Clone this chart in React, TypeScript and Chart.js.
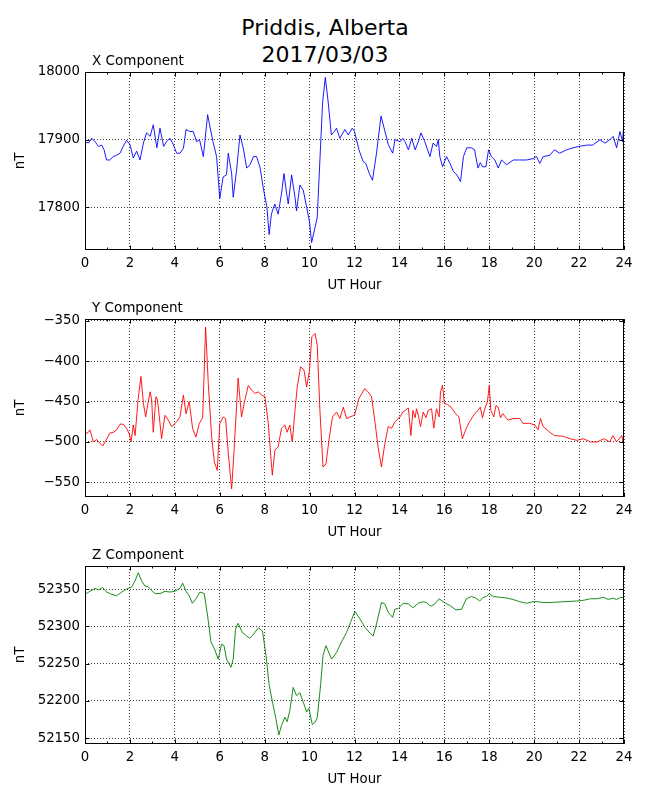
import React, { useEffect, useRef } from 'react'
import Chart from 'chart.js/auto'

// UT hours on the x axis
const hourTicks = [0, 2, 4, 6, 8, 10, 12, 14, 16, 18, 20, 22, 24]
const minorHourTicks = [1, 3, 5, 7, 9, 11, 13, 15, 17, 19, 21, 23]

// tick values for each component
const xCompTicks = [17800, 17900, 18000]
const yCompTicks = [-550, -500, -450, -400, -350]
const zCompTicks = [52150, 52200, 52250, 52300, 52350]

// X component (nT)
const xHours = [
  0, 0.15, 0.3, 0.45, 0.6, 0.75, 0.85, 0.96, 1.1, 1.26,
  1.4, 1.56, 1.7, 1.85, 2.0, 2.15, 2.3, 2.45, 2.6, 2.74,
  2.9, 3.04, 3.2, 3.34, 3.5, 3.63, 3.78, 3.93, 4.08, 4.23,
  4.38, 4.5, 4.67, 4.82, 4.97, 5.1, 5.27, 5.46, 5.56, 5.7,
  5.86, 6.0, 6.15, 6.3, 6.38, 6.53, 6.6, 6.75, 6.9, 7.05,
  7.2, 7.35, 7.5, 7.64, 7.8, 7.93, 8.1, 8.2, 8.3, 8.45,
  8.6, 8.75, 8.86, 8.98, 9.05, 9.2, 9.35, 9.42, 9.57, 9.72,
  9.87, 10.0, 10.09, 10.24, 10.34, 10.46, 10.58, 10.7, 10.83, 10.97,
  11.1, 11.2, 11.35, 11.57, 11.72, 11.9, 12.0, 12.2, 12.38, 12.5,
  12.66, 12.8, 12.98, 13.18, 13.35, 13.5, 13.7, 13.8, 14.03, 14.15,
  14.25, 14.4, 14.55, 14.7, 14.84, 14.96, 15.13, 15.36, 15.5, 15.65,
  15.73, 15.8, 15.92, 16.1, 16.25, 16.4, 16.56, 16.72, 16.85, 17.0,
  17.2, 17.35, 17.4, 17.5, 17.6, 17.7, 17.85, 17.97, 18.1, 18.25,
  18.4, 18.55, 18.77, 19.07, 19.36, 19.66, 19.95, 20.1, 20.25, 20.4,
  20.7, 20.9, 21.14, 21.44, 21.73, 22.0, 22.33, 22.6, 22.93, 23.15,
  23.37, 23.52, 23.67, 23.82, 23.94, 24.0,
]
const xValues = [
  17897, 17895, 17902, 17897, 17890, 17892, 17885, 17870, 17870, 17875,
  17877, 17880, 17890, 17899, 17893, 17873, 17883, 17870, 17895, 17910,
  17905, 17922, 17888, 17917, 17890, 17897, 17902, 17893, 17880, 17880,
  17887, 17915, 17912, 17912, 17897, 17900, 17875, 17937, 17920, 17897,
  17875, 17813, 17845, 17848, 17880, 17850, 17815, 17855, 17907, 17887,
  17858, 17863, 17875, 17875, 17858, 17830, 17800, 17760, 17790, 17805,
  17790, 17820, 17850, 17820, 17805, 17848, 17815, 17795, 17833, 17825,
  17800, 17778, 17748, 17770, 17785, 17870, 17955, 17992, 17955, 17907,
  17912, 17917, 17902, 17915, 17907, 17917, 17912, 17885, 17868, 17865,
  17850, 17840, 17880, 17935, 17913, 17893, 17880, 17900, 17897, 17902,
  17897, 17885, 17902, 17885, 17897, 17910, 17897, 17875, 17895, 17890,
  17900, 17875, 17860, 17875, 17865, 17853, 17848, 17838, 17875, 17888,
  17888, 17885, 17875, 17858, 17866, 17860, 17860, 17885, 17875, 17870,
  17858, 17870, 17863, 17870, 17870, 17870, 17872, 17875, 17865, 17875,
  17877, 17885, 17880, 17885, 17888, 17890, 17892, 17892, 17900, 17895,
  17900, 17905, 17888, 17912, 17897, 17930,
]

// Y component (nT)
const yHours = [
  0, 0.15, 0.22, 0.37, 0.52, 0.67, 0.79, 0.89, 1.11, 1.26,
  1.41, 1.56, 1.7, 1.85, 1.97, 2.05, 2.15, 2.23, 2.37, 2.49,
  2.6, 2.7, 2.82, 2.9, 2.97, 3.04, 3.16, 3.23, 3.34, 3.41,
  3.56, 3.71, 3.86, 4.08, 4.23, 4.38, 4.5, 4.64, 4.79, 4.94,
  5.09, 5.24, 5.37, 5.49, 5.64, 5.76, 5.89, 6.0, 6.16, 6.26,
  6.38, 6.53, 6.63, 6.82, 6.97, 7.12, 7.27, 7.42, 7.57, 7.72,
  7.86, 8.01, 8.16, 8.34, 8.46, 8.6, 8.75, 8.9, 9.0, 9.12,
  9.23, 9.35, 9.45, 9.6, 9.75, 9.87, 9.99, 10.1, 10.24, 10.34,
  10.46, 10.6, 10.73, 10.88, 11.02, 11.2, 11.35, 11.5, 11.65, 11.8,
  12.0, 12.2, 12.46, 12.6, 12.76, 12.9, 13.05, 13.2, 13.35, 13.5,
  13.65, 13.8, 14.03, 14.15, 14.25, 14.4, 14.51, 14.6, 14.7, 14.76,
  14.85, 14.94, 15.06, 15.18, 15.28, 15.43, 15.53, 15.65, 15.77, 15.83,
  15.92, 16.0, 16.15, 16.3, 16.5, 16.65, 16.8, 16.98, 17.12, 17.35,
  17.5, 17.6, 17.7, 17.8, 17.92, 18.0, 18.07, 18.2, 18.3, 18.4,
  18.5, 18.6, 18.84, 19.07, 19.36, 19.5, 19.8, 20.03, 20.17, 20.28,
  20.4, 20.7, 20.9, 21.3, 21.6, 21.9, 22.2, 22.5, 22.8, 23.1,
  23.37, 23.5, 23.67, 23.9, 24.0,
]
const yValues = [
  -490, -488, -485, -500, -497, -502, -505, -500, -489, -488,
  -485, -478, -478, -483, -490, -500, -479, -492, -446, -419,
  -452, -469, -450, -438, -448, -488, -444, -448, -477, -496,
  -467, -473, -481, -475, -469, -442, -465, -450, -483, -494,
  -477, -470, -358, -428, -494, -525, -535, -477, -469, -471,
  -514, -558, -514, -421, -469, -448, -430, -436, -440, -438,
  -442, -444, -477, -541, -510, -506, -483, -479, -488, -479,
  -500, -461, -432, -407, -411, -432, -413, -370, -366, -380,
  -461, -531, -527, -494, -469, -463, -471, -457, -471, -469,
  -467, -446, -434, -438, -444, -473, -506, -531, -502, -481,
  -483, -475, -469, -463, -461, -458, -492, -461, -470, -459,
  -468, -481, -463, -470, -461, -459, -483, -459, -469, -438,
  -430, -452, -454, -457, -465, -469, -496, -483, -475, -465,
  -461, -457, -470, -459, -450, -430, -461, -469, -455, -457,
  -470, -465, -473, -471, -471, -477, -477, -479, -485, -471,
  -481, -488, -492, -493, -496, -498, -496, -500, -500, -496,
  -500, -492, -500, -492, -506,
]

// Z component (nT)
const zHours = [
  0, 0.22, 0.45, 0.6, 0.79, 0.96, 1.19, 1.41, 1.63, 1.85,
  2.08, 2.23, 2.37, 2.52, 2.67, 2.82, 2.97, 3.12, 3.34, 3.56,
  3.78, 4.0, 4.23, 4.35, 4.5, 4.64, 4.78, 4.94, 5.12, 5.31,
  5.46, 5.61, 5.76, 5.93, 6.0, 6.08, 6.19, 6.3, 6.5, 6.6,
  6.7, 6.82, 7.0, 7.2, 7.34, 7.52, 7.72, 7.9, 8.06, 8.2,
  8.35, 8.5, 8.63, 8.75, 8.9, 9.0, 9.12, 9.27, 9.42, 9.57,
  9.72, 9.87, 9.97, 10.12, 10.24, 10.34, 10.49, 10.6, 10.73, 10.88,
  10.98, 11.2, 11.42, 11.65, 11.82, 12.02, 12.24, 12.46, 12.68, 12.83,
  12.98, 13.2, 13.35, 13.5, 13.7, 13.8, 13.95, 14.17, 14.4, 14.6,
  14.84, 15.06, 15.2, 15.4, 15.58, 15.77, 16.0, 16.25, 16.52, 16.77,
  16.98, 17.2, 17.4, 17.58, 17.73, 17.88, 18.0, 18.17, 18.47, 18.77,
  19.07, 19.36, 19.66, 19.95, 20.17, 20.4, 20.7, 21.3, 21.9, 22.2,
  22.5, 22.8, 23.1, 23.3, 23.5, 23.67, 23.85, 24.0,
]
const zValues = [
  52343, 52347, 52351, 52349, 52352, 52346, 52343, 52341, 52346, 52350,
  52353, 52361, 52372, 52361, 52354, 52353, 52348, 52344, 52344, 52347,
  52346, 52347, 52351, 52358, 52347, 52341, 52331, 52337, 52346, 52344,
  52314, 52279, 52270, 52256, 52265, 52276, 52274, 52256, 52245, 52256,
  52296, 52304, 52292, 52287, 52284, 52290, 52298, 52294, 52261, 52221,
  52198, 52176, 52154, 52167, 52178, 52172, 52187, 52218, 52207, 52211,
  52198, 52185, 52190, 52168, 52171, 52177, 52221, 52261, 52274, 52263,
  52256, 52265, 52279, 52292, 52305, 52320, 52310, 52299, 52291, 52287,
  52303, 52332, 52330, 52319, 52312, 52323, 52324, 52331, 52330, 52325,
  52331, 52333, 52332, 52327, 52330, 52337, 52332, 52328, 52322, 52323,
  52337, 52340, 52338, 52334, 52339, 52340, 52344, 52340, 52339, 52338,
  52336, 52333, 52331, 52333, 52333, 52332, 52332, 52333, 52334, 52335,
  52337, 52337, 52339, 52336, 52338, 52336, 52339, 52338,
]

const FONT = "'DejaVu Sans', 'Liberation Sans', sans-serif"
const PAD_TOP = 30
const PLOT_H = 178
const AXIS_H = 45

Chart.defaults.font.family = FONT
Chart.defaults.color = '#000'

const fmt = (v: number) => (v < 0 ? '\u2212' + Math.abs(v) : String(v))

// black frame, inward ticks on all four sides, and the panel title
const framePlugin = {
  id: 'frame',
  afterDraw(chart: any, _args: any, opts: any) {
    const { ctx, chartArea: a, scales } = chart
    const l = Math.round(a.left) + 0.5
    const r = Math.round(a.right) - 0.5
    const t = Math.round(a.top) + 0.5
    const b = Math.round(a.bottom) - 0.5
    ctx.save()
    ctx.strokeStyle = '#000'
    ctx.lineWidth = 1
    ctx.strokeRect(l, t, r - l, b - t)
    ctx.beginPath()
    const xTick = (h: number, len: number) => {
      const x = Math.round(scales.x.getPixelForValue(h)) + 0.5
      ctx.moveTo(x, b)
      ctx.lineTo(x, b - len)
      ctx.moveTo(x, t)
      ctx.lineTo(x, t + len)
    }
    hourTicks.forEach((h) => xTick(h, 4))
    minorHourTicks.forEach((h) => xTick(h, 2))
    scales.y.ticks.forEach((tk: any) => {
      const y = Math.round(scales.y.getPixelForValue(tk.value)) + 0.5
      ctx.moveTo(l, y)
      ctx.lineTo(l + 4, y)
      ctx.moveTo(r, y)
      ctx.lineTo(r - 4, y)
    })
    ctx.stroke()
    ctx.fillStyle = '#000'
    ctx.font = `13.5px ${FONT}`
    ctx.textAlign = 'left'
    ctx.textBaseline = 'alphabetic'
    ctx.fillText(opts.title, a.left + 7, a.top - 7.5)
    ctx.restore()
  },
}

type PanelProps = {
  title: string
  hours: number[]
  values: number[]
  color: string
  min: number
  max: number
  ticks: number[]
  top: number
}

function Panel({ title, hours, values, color, min, max, ticks, top }: PanelProps) {
  const canvasRef = useRef<HTMLCanvasElement | null>(null)

  useEffect(() => {
    if (!canvasRef.current) return
    const grid = { color: 'rgba(0,0,0,0.75)', lineWidth: 1, drawTicks: false }
    const border = { display: false, dash: [1, 2] }
    const chart = new Chart(canvasRef.current, {
      type: 'line',
      data: {
        datasets: [
          {
            data: hours.map((h, i) => ({ x: h, y: values[i] })),
            borderColor: color,
            borderWidth: 0.9,
            pointRadius: 0,
            tension: 0,
            fill: false,
          },
        ],
      },
      options: {
        responsive: false,
        animation: false,
        layout: { padding: { top: PAD_TOP, right: 26, bottom: 5, left: 0 } },
        plugins: {
          legend: { display: false },
          tooltip: { enabled: false },
          frame: { title },
        } as any,
        scales: {
          x: {
            type: 'linear',
            min: 0,
            max: 24,
            afterBuildTicks: (s: any) => {
              s.ticks = hourTicks.map((v) => ({ value: v }))
            },
            afterFit: (s: any) => {
              s.height = AXIS_H
            },
            grid,
            border,
            ticks: { padding: 6, font: { size: 13.3 }, maxRotation: 0, autoSkip: false, callback: (v: any) => fmt(v) },
            title: { display: true, text: 'UT Hour', font: { size: 13.3 }, padding: { top: 0, bottom: 1 } },
          },
          y: {
            type: 'linear',
            min,
            max,
            afterBuildTicks: (s: any) => {
              s.ticks = ticks.map((v) => ({ value: v }))
            },
            afterFit: (s: any) => {
              s.width = 85
            },
            grid,
            border,
            ticks: { padding: 5, font: { size: 13.3 }, autoSkip: false, callback: (v: any) => fmt(v) },
            title: { display: true, text: 'nT', font: { size: 13.3 }, padding: { top: 13, bottom: 0 } },
          },
        },
      },
      plugins: [framePlugin],
    })
    return () => chart.destroy()
  }, [])

  return (
    <canvas
      ref={canvasRef}
      width={650}
      height={PAD_TOP + PLOT_H + AXIS_H + 5}
      style={{ position: 'absolute', left: 0, top: top - PAD_TOP }}
    />
  )
}

export default function App() {
  return (
    <div style={{ position: 'absolute', left: 0, top: 0, width: 650, height: 800, background: '#fff' }}>
      <div
        style={{
          position: 'absolute',
          left: 0,
          top: 15,
          width: 650,
          textAlign: 'center',
          fontFamily: FONT,
          fontSize: 22,
          lineHeight: '26.7px',
          color: '#000',
        }}
      >
        Priddis, Alberta
        <br />
        2017/03/03
      </div>
      <Panel title="X Component" hours={xHours} values={xValues} color="#0000ff" min={17737} max={18000} ticks={xCompTicks} top={72} />
      <Panel title="Y Component" hours={yHours} values={yValues} color="#ff0000" min={-568} max={-348} ticks={yCompTicks} top={319} />
      <Panel title="Z Component" hours={zHours} values={zValues} color="#008000" min={52142} max={52381} ticks={zCompTicks} top={566} />
    </div>
  )
}
